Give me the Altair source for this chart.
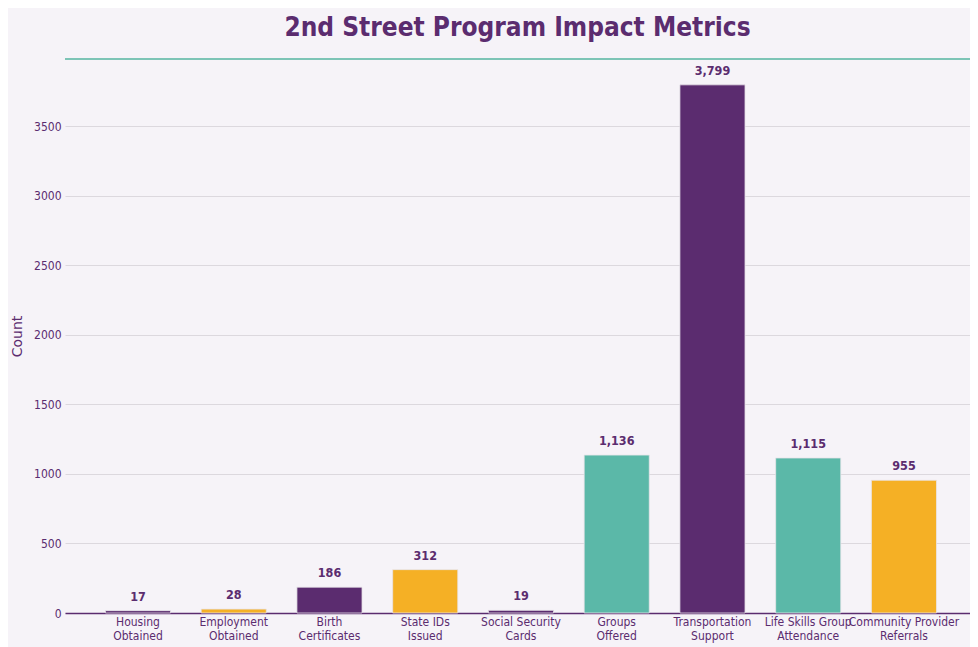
import altair as alt
import pandas as pd

categories = ["Housing|Obtained", "Employment|Obtained", "Birth|Certificates",
              "State IDs|Issued", "Social Security|Cards", "Groups|Offered",
              "Transportation|Support", "Life Skills Group|Attendance",
              "Community Provider|Referrals"]
values = [17, 28, 186, 312, 19, 1136, 3799, 1115, 955]
bar_colors = ["#5b2c6f", "#f5b025", "#5b2c6f", "#f5b025", "#5b2c6f",
              "#5bb8a8", "#5b2c6f", "#5bb8a8", "#f5b025"]
y_ticks = [0, 500, 1000, 1500, 2000, 2500, 3000, 3500]

PURPLE = "#5b2c6f"
FONT = "DejaVu Sans Condensed"

df = pd.DataFrame({"cat": categories, "value": values, "color": bar_colors})

W, H = 905, 554
ymax = 3985

x = alt.X("cat:N", sort=categories, title=None,
          scale=alt.Scale(paddingInner=0.32, paddingOuter=0.386, align=0.547),
          axis=alt.Axis(labelExpr="split(datum.label, '|')", labelAngle=0,
                        labelColor=PURPLE, labelFont=FONT, labelFontSize=12,
                        labelPadding=3, ticks=False, domainColor=PURPLE,
                        domainWidth=1.5, labelLineHeight=14))
y = alt.Y("value:Q", title="Count",
          scale=alt.Scale(domain=[0, ymax], nice=False),
          axis=alt.Axis(values=y_ticks, format="d", labelColor=PURPLE,
                        labelFont=FONT, labelFontSize=12, ticks=False,
                        domain=False, labelPadding=4, gridColor="#dcd8de",
                        gridWidth=1, titleColor=PURPLE, titleFont="DejaVu Sans",
                        titleFontSize=14, titleFontWeight="normal",
                        titlePadding=9))

bars = alt.Chart(df).mark_bar(stroke="#e8e4ea", strokeWidth=0.8).encode(
    x=x, y=y, color=alt.Color("color:N", scale=None))

labels = alt.Chart(df).mark_text(font=FONT, fontSize=12.5, fontWeight="bold",
                                 color=PURPLE, baseline="middle", dy=-14).encode(
    x=alt.X("cat:N", sort=categories), y=alt.Y("value:Q"),
    text=alt.Text("value:Q", format=","))

top_line = alt.Chart(df).mark_rule(color="#7dc4b6", strokeWidth=2).encode(
    x=alt.value(0), x2=alt.value(W), y=alt.value(0))

chart = alt.layer(bars, labels, top_line).properties(
    width=W, height=H,
    background="#f6f3f8",
    padding={"left": 57, "top": 51, "right": 0, "bottom": 34},
    autosize=alt.AutoSizeParams(type="none"),
    title=alt.TitleParams("2nd Street Program Impact Metrics", font=FONT,
                          fontSize=26, fontWeight="bold", color=PURPLE,
                          anchor="middle", offset=17)
).configure_view(stroke=None)

chart.save("out.html", embed_options={"renderer": "svg", "actions": False})
